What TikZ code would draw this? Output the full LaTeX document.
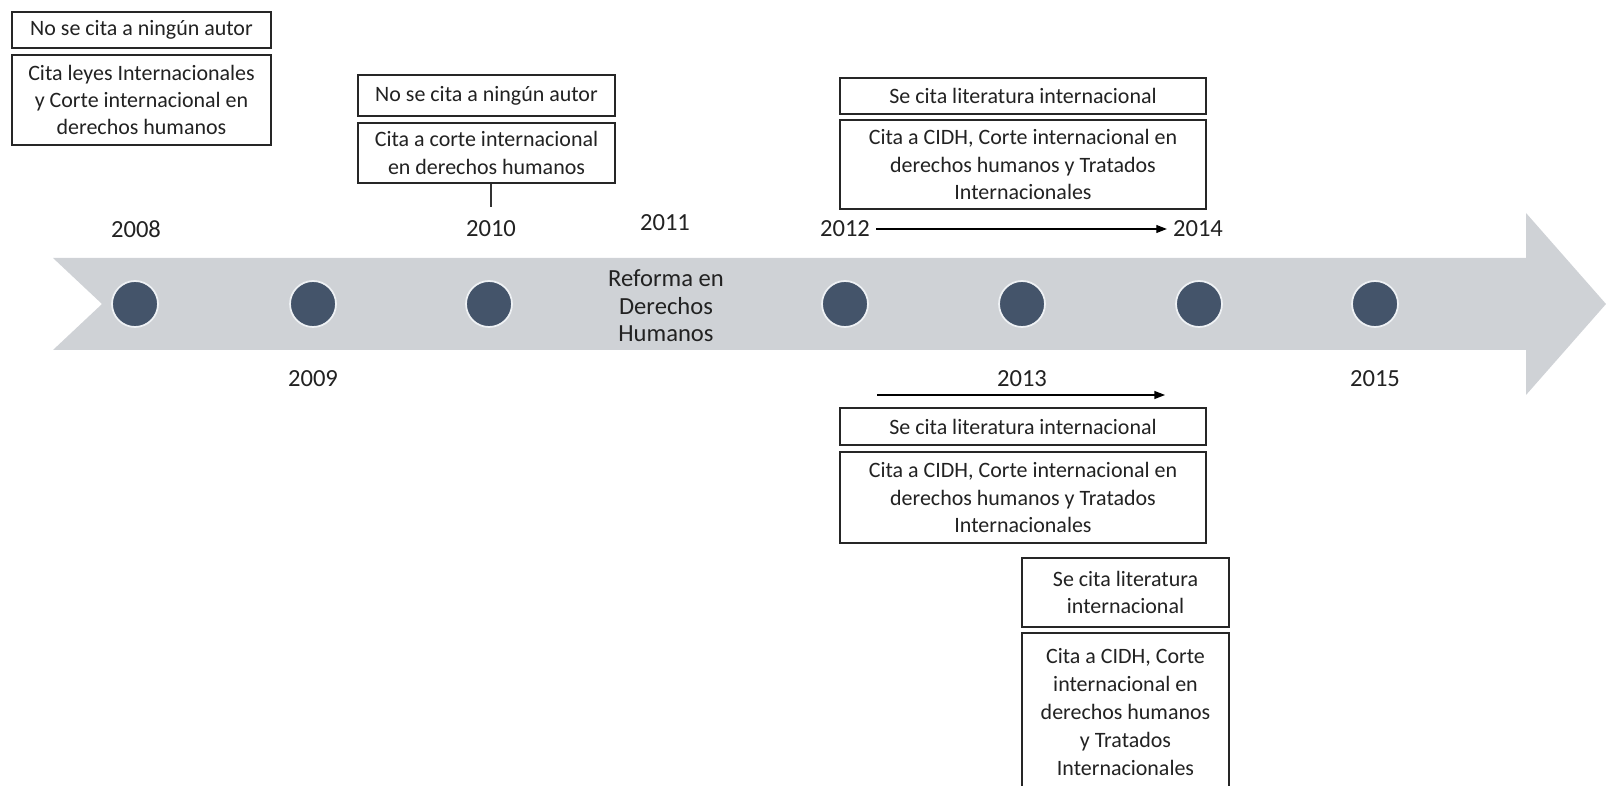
\documentclass[tikz,border=0pt]{standalone}
\usepackage{fontspec}
\setmainfont{Carlito}
\usetikzlibrary{arrows.meta}
\definecolor{arrowgray}{HTML}{CFD2D6}
\definecolor{dotblue}{HTML}{44546A}
\definecolor{dotrim}{HTML}{EEF1F4}
\definecolor{txt}{HTML}{222222}
\tikzset{
  box/.style={draw=black!85, line width=0.9pt, fill=white, align=center, inner sep=2pt,
              font=\fontsize{12.5}{15.5}\selectfont, text=txt},
  year/.style={font=\fontsize{14}{17}\selectfont, text=txt},
  dot/.style={circle, fill=dotblue, draw=dotrim, line width=1pt, minimum size=0.92cm, inner sep=0pt},
  timearrow/.style={line width=0.7pt, -{Triangle[length=6pt,width=4.5pt]}},
}
\begin{document}
\begin{tikzpicture}[x=0.02cm, y=-0.02cm]
\useasboundingbox (0,0) rectangle (1606,786);
\clip (0,0) rectangle (1606,786);
% big arrow
\fill[arrowgray] (53,258) -- (1526,258) -- (1526,213) -- (1606,304) -- (1526,395)
  -- (1526,350) -- (53,350) -- (102,304) -- cycle;
% dots
\foreach \n/\x in {d2008/135, d2009/313, d2010/489, d2012/845, d2013/1022, d2014/1199, d2015/1375}
  \node[dot] (\n) at (\x,304) {};
% years
\node[year] (y2008) at (136,229) {2008};
\node[year] (y2010) at (491,229) {2010};
\node[year] (y2011) at (665,223) {2011};
\node[year] (y2012) at (845,229) {2012};
\node[year] (y2014) at (1198,229) {2014};
\node[year] (y2009) at (313,379) {2009};
\node[year] (y2013) at (1022,379) {2013};
\node[year] (y2015) at (1375,379) {2015};
\node[year, align=center, font=\fontsize{14}{15.6}\selectfont] (reforma) at (666,306)
  {Reforma en\\Derechos\\Humanos};
% 2008 boxes
\node[box, minimum width=5.18cm, minimum height=0.72cm] (a1) at (141.5,30) {No se cita a ningún autor};
\node[box, minimum width=5.18cm, minimum height=1.8cm] (a2) at (141.5,100)
  {Cita leyes Internacionales\\y Corte internacional en\\derechos humanos};
% 2010 boxes
\node[box, minimum width=5.14cm, minimum height=0.82cm] (b1) at (486.5,95.5) {No se cita a ningún autor};
\node[box, minimum width=5.14cm, minimum height=1.2cm] (b2) at (486.5,153)
  {Cita a corte internacional\\en derechos humanos};
\coordinate (c2010) at (491,207);
\draw[line width=0.7pt, black!80] (c2010 |- b2.south) -- (c2010);
% 2012-2014 boxes
\node[box, minimum width=7.32cm, minimum height=0.72cm] (c1) at (1023,96) {Se cita literatura internacional};
\node[box, minimum width=7.32cm, minimum height=1.78cm] (c2) at (1023,164.5)
  {Cita a CIDH, Corte internacional en\\derechos humanos y Tratados\\Internacionales};
\draw[timearrow] (y2012.east) -- (y2014.west);
% 2013 boxes
\coordinate (s2013) at (877,395);
\coordinate (e2013) at (1165,395);
\draw[timearrow] (s2013) -- (e2013);
\node[box, minimum width=7.32cm, minimum height=0.74cm] (d1) at (1023,426.5) {Se cita literatura internacional};
\node[box, minimum width=7.32cm, minimum height=1.82cm] (d2) at (1023,497.5)
  {Cita a CIDH, Corte internacional en\\derechos humanos y Tratados\\Internacionales};
% 2014 boxes
\node[box, minimum width=4.14cm, minimum height=1.38cm] (e1) at (1125.5,592.5)
  {Se cita literatura\\internacional};
\node[box, minimum width=4.14cm, minimum height=3.16cm, font=\fontsize{12.5}{16}\selectfont] (e2) at (1125.5,712)
  {Cita a CIDH, Corte\\internacional en\\derechos humanos\\y Tratados\\Internacionales};
\end{tikzpicture}
\end{document}
